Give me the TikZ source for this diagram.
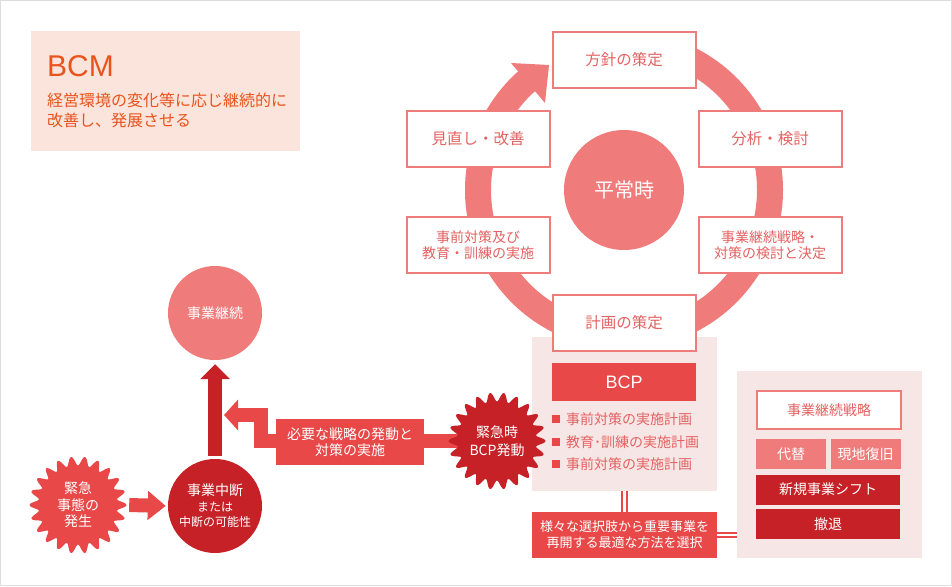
\documentclass[tikz,border=0pt]{standalone}
\usepackage{fontspec}
\setmainfont{Noto Sans CJK JP}
\newfontfamily\latinfont{Liberation Sans}
\usepackage{tikz}
\usetikzlibrary{positioning,arrows.meta,backgrounds}
\definecolor{salmon}{HTML}{F07B7B}
\definecolor{bcpred}{HTML}{E84848}
\definecolor{darkred}{HTML}{C62127}
\definecolor{panelpink}{HTML}{F7E6E6}
\definecolor{bcmpeach}{HTML}{FBE4DC}
\definecolor{bcmorange}{HTML}{E8541C}
\definecolor{boxtext}{HTML}{E46262}
\definecolor{framegray}{HTML}{DDDDDD}
\newcommand{\bulletsq}{\textcolor{bcpred}{\raisebox{1pt}{\rule{8pt}{8pt}}}\hspace{6pt}}
% scalloped disc behind a burst node
\newcommand{\burstfill}[2]{\fill[#2, shift={(#1)}]
    plot[domain=0:360, samples=265, smooth] (\x:{44+4.5*cos(22*\x)});}

\begin{document}
\begin{tikzpicture}[x=1pt,y=-1pt,
    cyclebox/.style={draw=salmon, line width=2pt, fill=white,
        minimum width=143pt, minimum height=56pt, inner sep=0pt,
        text=boxtext, align=center, font=\fontsize{15.5}{18}\selectfont},
    cyclebox2/.style={cyclebox, font=\fontsize{14}{15.5}\selectfont},
    disc/.style={circle, inner sep=0pt, text=white, align=center},
    burst/.style={circle, inner sep=0pt, minimum size=100pt,
        text=white, align=center, font=\fontsize{14}{16.5}\selectfont},
    redbox/.style={fill=bcpred, text=white, align=center, inner sep=0pt},
    panel/.style={fill=panelpink, inner sep=0pt},
    planitem/.style={anchor=west, inner sep=0pt, text=boxtext,
        font=\fontsize{14}{16}\selectfont},
    stratfill/.style={inner sep=0pt, minimum height=30pt, text=white,
        font=\fontsize{14}{16}\selectfont},
    fat/.style={line width=14pt}
]
\useasboundingbox (0,0) rectangle (952,586);

% BCM
\node[fill=bcmpeach, minimum width=269pt, minimum height=120pt, inner sep=0pt] (bcmbox) at (165.5,91) {};
\node[anchor=base west, inner sep=0pt, text=bcmorange,
    font=\latinfont\fontsize{30}{30}\selectfont] (bcmtitle) at (47,77) {BCM};
\node[anchor=base west, inner sep=0pt, text=bcmorange,
    font=\fontsize{16}{20}\selectfont] (bcmline1) at (47,106) {経営環境の変化等に応じ継続的に};
\node[anchor=base west, inner sep=0pt, text=bcmorange,
    font=\fontsize{16}{20}\selectfont] (bcmline2) at (47,126) {改善し、発展させる};

% panels
\node[panel, minimum width=185pt, minimum height=154pt] (bcppanel) at (624.5,414) {};
\node[panel, minimum width=185pt, minimum height=187pt] (stratpanel) at (829.5,464.5) {};

% cycle
\coordinate (cyclec) at (624,190);
\draw[salmon, line width=26pt] (cyclec) ++(229:146) arc[start angle=229, end angle=-100, radius=146];
\fill[salmon] (511,63) -- (549,65) -- (545,103) -- cycle;

\node[cyclebox] (policy) at (624,60) {方針の策定};
\node[cyclebox] (analysis) at (770,139) {分析・検討};
\node[cyclebox2] (decide) at (770,245) {事業継続戦略・\\対策の検討と決定};
\node[cyclebox] (planning) at (624,323) {計画の策定};
\node[cyclebox2] (training) at (478,245) {事前対策及び\\教育・訓練の実施};
\node[cyclebox] (review) at (478,139) {見直し・改善};

\node[disc, fill=salmon, minimum size=120pt, font=\fontsize{20}{20}\selectfont] (normal) at (cyclec) {平常時};

% BCP
\node[redbox, minimum width=144pt, minimum height=38pt,
    font=\latinfont\fontsize{18}{18}\selectfont] (bcpbar) at (624,382) {BCP};
\node[planitem] (plan1) at (552,419) {\bulletsq 事前対策の実施計画};
\node[planitem] (plan2) at (552,442) {\bulletsq 教育･訓練の実施計画};
\node[planitem] (plan3) at (552,464) {\bulletsq 事前対策の実施計画};

\node[redbox, minimum width=185pt, minimum height=46pt,
    font=\fontsize{13}{16}\selectfont] (choose) at (624.5,535) {様々な選択肢から重要事業を\\再開する最適な方法を選択};

% strategy
\node[draw=salmon, line width=2pt, fill=white, minimum width=144pt, minimum height=38pt,
    inner sep=0pt, text=boxtext, font=\fontsize{14}{16}\selectfont] (strathead) at (829,410) {事業継続戦略};
\node[stratfill, fill=salmon, minimum width=70pt,
    below=9pt of strathead.south west, anchor=north west] (alt) {代替};
\node[stratfill, fill=salmon, minimum width=70pt, right=4pt of alt] (restore) {現地復旧};
\node[stratfill, fill=darkred, minimum width=144pt,
    below=5pt of alt.south west, anchor=north west] (shift) {新規事業シフト};
\node[stratfill, fill=darkred, minimum width=144pt, below=4pt of shift] (withdraw) {撤退};

\draw[bcpred, line width=1.8pt, double=white, double distance=2.6pt] (bcppanel.south) -- (choose.north);
\draw[bcpred, line width=1.8pt, double=white, double distance=2.6pt] (choose.east) -- (stratpanel.west |- choose.east);

% emergency
\coordinate (emergc) at (78,505);
\burstfill{emergc}{bcpred}
\node[burst] (emerg) at (emergc) {緊急\\事態の\\発生};
\node[disc, fill=darkred, minimum size=94pt, font=\fontsize{12}{15.5}\selectfont] (stop) at (215,506)
    {{\fontsize{14}{15.5}\selectfont 事業中断}\\または\\中断の可能性};
\node[disc, fill=salmon, minimum size=94pt, font=\fontsize{14}{16}\selectfont] (cont) at (215,313) {事業継続};
\coordinate (bcpgoc) at (497,441);
\burstfill{bcpgoc}{darkred}
\node[burst, font=\fontsize{14}{17.5}\selectfont] (bcpgo) at (bcpgoc) {緊急時\\BCP発動};

\draw[bcpred, fat, -{Triangle[length=18pt,width=28pt]}, shorten <=1pt, shorten >=2pt] (emerg.east) -- (stop.west);
\draw[darkred, fat, -{Triangle[length=15pt,width=29pt]}, shorten <=3pt, shorten >=4pt] (stop.north) -- (cont.south);

\coordinate (bend) at (260.5,415);
\coordinate (jointip) at (224,415);
\begin{pgfonlayer}{background}
\draw[bcpred, fat, -{Triangle[length=14pt,width=30pt]}] (bcpgo.center) -| (bend) -- (jointip);
\end{pgfonlayer}
\node[redbox, minimum width=148pt, minimum height=46pt,
    font=\fontsize{14}{16}\selectfont] (action) at (350,442) {必要な戦略の発動と\\対策の実施};

\draw[framegray, line width=1pt] (0.5,0.5) rectangle (951.5,585.5);
\end{tikzpicture}
\end{document}
